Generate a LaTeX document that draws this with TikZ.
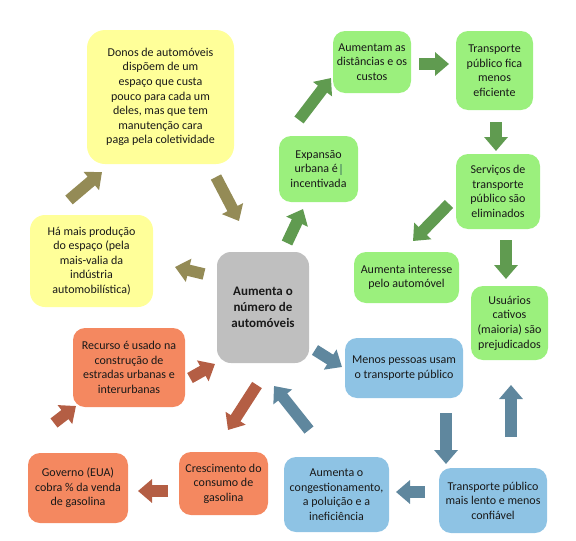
\documentclass[tikz,border=0pt]{standalone}
\usepackage{fontspec}
\setmainfont{Carlito}
\usetikzlibrary{arrows.meta}
\definecolor{yelbox}{RGB}{255,255,153}
\definecolor{grnbox}{RGB}{155,240,125}
\definecolor{graybox}{RGB}{191,191,191}
\definecolor{bluebox}{RGB}{142,195,228}
\definecolor{orgbox}{RGB}{244,136,96}
\definecolor{olivearr}{RGB}{148,139,86}
\definecolor{grnarr}{RGB}{96,155,80}
\definecolor{bluearr}{RGB}{95,135,158}
\definecolor{orgarr}{RGB}{180,94,68}
\definecolor{cursorgrn}{RGB}{110,180,110}
\tikzset{
  box/.style={rectangle, rounded corners=12pt, inner sep=0pt, align=center,
    font=\fontsize{12}{14.6}\selectfont, text=black!90},
  ybox/.style={box, fill=yelbox},
  gbox/.style={box, fill=grnbox},
  bbox/.style={box, fill=bluebox},
  obox/.style={box, fill=orgbox},
  blockarrow/.style={line width=11.5pt, -{Triangle[width=23pt,length=14pt]}},
  oarrow/.style={blockarrow, olivearr},
  garrow/.style={blockarrow, grnarr},
  barrow/.style={blockarrow, bluearr},
  rarrow/.style={blockarrow, orgarr},
}
\begin{document}
\begin{tikzpicture}[x=1pt,y=-1pt]
\useasboundingbox (0,0) rectangle (576,541);
% yellow
\node[ybox, rounded corners=18pt, minimum width=147pt, minimum height=134pt] (donos) at (160.5,97)
  {Donos de automóveis\\dispõem de um\\espaço que custa\\pouco para cada um\\deles, mas que tem\\manutenção cara\\paga pela coletividade};
\node[ybox, rounded corners=15pt, minimum width=123pt, minimum height=92pt] (hamais) at (91.5,261)
  {Há mais produção\\do espaço (pela\\mais-valia da\\indústria\\automobilística)};
% gray
\node[box, fill=graybox, rounded corners=14pt, minimum width=92pt, minimum height=111pt,
  font=\fontsize{13}{15.8}\selectfont\bfseries] (centro) at (263,307.5)
  {Aumenta o\\número de\\automóveis};
% green
\node[gbox, minimum width=79pt, minimum height=66pt] (expansao) at (318.5,169)
  {Expansão\\urbana é\,\textcolor{cursorgrn}{\rule[-2pt]{2.5pt}{11pt}}\\incentivada};
\node[gbox, minimum width=78pt, minimum height=62pt] (aumentam) at (372,62)
  {Aumentam as\\distâncias e os\\custos};
\node[gbox, minimum width=77pt, minimum height=79pt] (tpfica) at (494.5,70.5)
  {Transporte\\público fica\\menos\\eficiente};
\node[gbox, minimum width=84pt, minimum height=75pt] (servicos) at (498,191.5)
  {Serviços de\\transporte\\público são\\eliminados};
\node[gbox, minimum width=105pt, minimum height=51pt] (interesse) at (406.5,277.5)
  {Aumenta interesse\\pelo automóvel};
\node[gbox, minimum width=77pt, minimum height=74pt] (usuarios) at (509.5,323)
  {Usuários\\cativos\\(maioria) são\\prejudicados};
% blue
\node[bbox, minimum width=118pt, minimum height=60pt] (menos) at (404,368)
  {Menos pessoas usam\\o transporte público};
\node[bbox, minimum width=108pt, minimum height=65pt] (lento) at (493,500.5)
  {Transporte público\\mais lento e menos\\confiável};
\node[bbox, minimum width=105pt, minimum height=75pt] (cong) at (336.5,494.5)
  {Aumenta o\\congestionamento,\\a poluição e a\\ineficiência};
% orange
\node[obox, minimum width=112pt, minimum height=79pt] (recurso) at (129,367.5)
  {Recurso é usado na\\construção de\\estradas urbanas e\\interurbanas};
\node[obox, minimum width=89pt, minimum height=63pt] (cresc) at (223.5,483.5)
  {Crescimento do\\consumo de\\gasolina};
\node[obox, minimum width=100pt, minimum height=70pt] (governo) at (78,488)
  {Governo (EUA)\\cobra \% da venda\\de gasolina};
% arrow end points
\coordinate (a1s) at (69,200);  \coordinate (a1e) at (102,172);
\coordinate (a2s) at (216,177); \coordinate (a2e) at (239,221);
\coordinate (a3s) at (204,274); \coordinate (a3e) at (175,267);
\coordinate (a4s) at (287,243); \coordinate (a4e) at (303,209);
\coordinate (a5s) at (299,120); \coordinate (a5e) at (331,78);
\coordinate (a6s) at (419,64);  \coordinate (a6e) at (449,64);
\coordinate (a7s) at (496,122); \coordinate (a7e) at (496,151);
\coordinate (a8s) at (449,204); \coordinate (a8e) at (413,241);
\coordinate (a9s) at (506,240); \coordinate (a9e) at (506,279);
\coordinate (b1s) at (315,350); \coordinate (b1e) at (342,367);
\coordinate (b2s) at (446,413); \coordinate (b2e) at (446,464);
\coordinate (b3s) at (511,437); \coordinate (b3e) at (511,385);
\coordinate (b4s) at (425,492); \coordinate (b4e) at (396,492);
\coordinate (b5s) at (309,430); \coordinate (b5e) at (274,386);
\coordinate (r1s) at (257,385); \coordinate (r1e) at (228,430);
\coordinate (r2s) at (168,491); \coordinate (r2e) at (138,491);
\coordinate (r3s) at (54,423);  \coordinate (r3e) at (76,406);
\coordinate (r4s) at (190,378); \coordinate (r4e) at (215,364);
% arrows
\draw[oarrow] (a1s) -- (a1e);
\draw[oarrow] (a2s) -- (a2e);
\draw[oarrow] (a3s) -- (a3e);
\draw[garrow] (a4s) -- (a4e);
\draw[garrow] (a5s) -- (a5e);
\draw[garrow] (a6s) -- (a6e);
\draw[garrow] (a7s) -- (a7e);
\draw[garrow] (a8s) -- (a8e);
\draw[garrow] (a9s) -- (a9e);
\draw[barrow] (b1s) -- (b1e);
\draw[barrow] (b2s) -- (b2e);
\draw[barrow] (b3s) -- (b3e);
\draw[barrow] (b4s) -- (b4e);
\draw[barrow] (b5s) -- (b5e);
\draw[rarrow] (r1s) -- (r1e);
\draw[rarrow] (r2s) -- (r2e);
\draw[rarrow] (r3s) -- (r3e);
\draw[rarrow] (r4s) -- (r4e);
\end{tikzpicture}
\end{document}
